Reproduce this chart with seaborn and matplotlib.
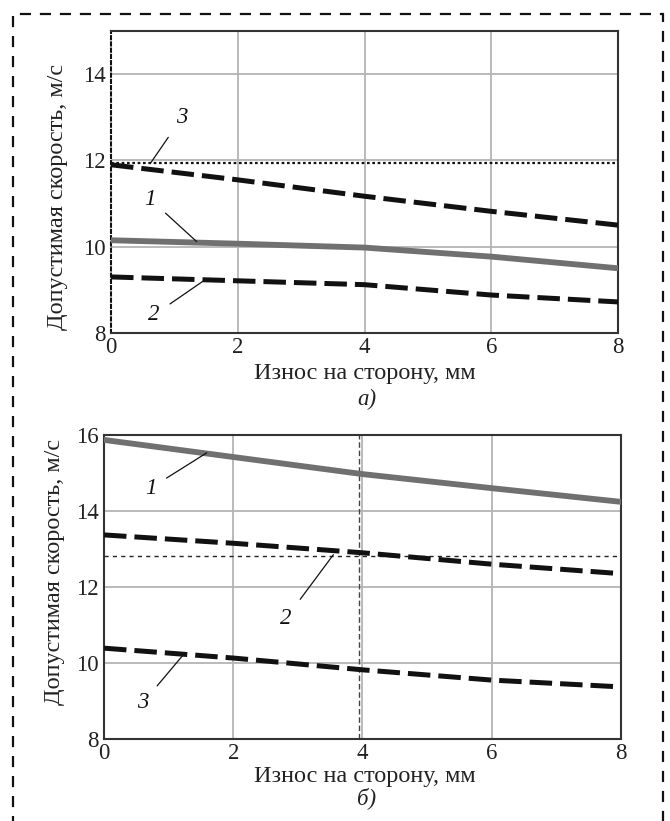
import matplotlib
matplotlib.use('Agg')
import matplotlib.pyplot as plt
import matplotlib.patches as patches
import seaborn as sns

# wear per side, mm
x_wear = [0, 2, 4, 6, 8]

# panel a) permissible speed, m/s
a_v1 = [10.15, 10.07, 9.98, 9.77, 9.50]
a_v2 = [9.30, 9.21, 9.12, 8.88, 8.72]
a_v3 = [11.90, 11.55, 11.17, 10.82, 10.50]
a_limit = 11.93

# panel b) permissible speed, m/s
b_v1 = [15.87, 15.42, 14.97, 14.60, 14.24]
b_v2 = [13.37, 13.15, 12.90, 12.60, 12.35]
b_v3 = [10.39, 10.13, 9.82, 9.55, 9.37]
b_limit = 12.82
b_wear_mark = 3.95

sns.set_theme(style="white")
plt.rcParams['font.family'] = ['Liberation Serif', 'DejaVu Serif']

TICK_FS = 16.5
LAB_FS = 17.5
GRID = '#b4b4b4'
GRAY = '#707070'
DASH = (0, (4.5, 1.6))

fig = plt.figure(figsize=(6.7, 8.21), dpi=100)
ax_a = fig.add_axes([0.1657, 0.5944, 0.757, 0.3678])
ax_b = fig.add_axes([0.1552, 0.0999, 0.7716, 0.3703])


def style_axes(ax, ylim, yticks):
    ax.set_xlim(0, 8)
    ax.set_ylim(*ylim)
    ax.set_xticks([0, 2, 4, 6, 8])
    ax.set_yticks(yticks)
    for v in [2, 4, 6]:
        ax.axvline(v, color=GRID, lw=1.3, zorder=0)
    for v in [10, 12, 14]:
        ax.axhline(v, color=GRID, lw=1.3, zorder=0)
    ax.tick_params(length=0, labelsize=TICK_FS, pad=3, colors='#222222')
    ax.tick_params(axis='y', pad=4)
    for s in ax.spines.values():
        s.set_color('#333333')
        s.set_linewidth(1.5)
    ax.set_xlabel('Износ на сторону, мм', fontsize=LAB_FS, color='#222222')
    ax.set_ylabel('Допустимая скорость, м/с', fontsize=LAB_FS, color='#222222')
    ax.xaxis.label.set_va('center')
    ax.yaxis.label.set_va('center')


def curve(ax, y, solid):
    if solid:
        sns.lineplot(x=x_wear, y=y, ax=ax, color=GRAY, linewidth=4.2, zorder=3)
    else:
        sns.lineplot(x=x_wear, y=y, ax=ax, color='#111111', linewidth=3.6,
                     linestyle=DASH, zorder=3)


def label(ax, txt, pos, tip):
    ax.annotate(txt, xy=tip, xytext=pos, fontsize=TICK_FS, style='italic',
                ha='center', va='center', color='#111111',
                arrowprops=dict(arrowstyle='-', color='#111111', lw=0.9,
                                shrinkA=6, shrinkB=0))


# ---- panel a)
style_axes(ax_a, (8, 15), [8, 10, 12, 14])
ax_a.spines['left'].set_linestyle((0, (1.5, 1.5)))
ax_a.spines['left'].set_color('#111111')
ax_a.axhline(a_limit, color='#111111', lw=1.6, linestyle=(0, (1.2, 1.2)), zorder=2)
curve(ax_a, a_v1, True)
curve(ax_a, a_v2, False)
curve(ax_a, a_v3, False)
label(ax_a, '3', (1.12, 13.0), (0.62, 11.93))
label(ax_a, '1', (0.62, 11.1), (1.35, 10.12))
label(ax_a, '2', (0.68, 8.42), (1.45, 9.2))
ax_a.xaxis.set_label_coords(0.5, -0.135)
ax_a.yaxis.set_label_coords(-0.105, 0.45)
fig.text(367 / 670, 1 - 399 / 821, 'а)', fontsize=TICK_FS, style='italic',
         ha='center', va='center', color='#222222')

# ---- panel b)
style_axes(ax_b, (8, 16), [8, 10, 12, 14, 16])
ax_b.axhline(b_limit, color='#222222', lw=1.0, linestyle=(0, (3, 3)), zorder=2)
ax_b.axvline(b_wear_mark, color='#444444', lw=1.0, linestyle=(0, (4, 2)), zorder=2)
curve(ax_b, b_v1, True)
curve(ax_b, b_v2, False)
curve(ax_b, b_v3, False)
label(ax_b, '1', (0.72, 14.6), (1.59, 15.53))
label(ax_b, '2', (2.82, 11.18), (3.55, 12.85))
label(ax_b, '3', (0.6, 8.95), (1.22, 10.2))
ax_b.xaxis.set_label_coords(0.505, -0.124)
ax_b.yaxis.set_label_coords(-0.095, 0.55)
fig.text(367 / 670, 1 - 798 / 821, 'б)', fontsize=TICK_FS, style='italic',
         ha='center', va='center', color='#222222')

# outer dashed frame (bottom edge is cut off in the source)
frame = patches.Rectangle((13 / 670, -0.05), (663 - 13) / 670, 1.05 - 14 / 821,
                          transform=fig.transFigure, fill=False, ec='#111111',
                          lw=1.6, linestyle=(0, (5, 4)))
fig.add_artist(frame)

fig.savefig('out.png', dpi=100)
